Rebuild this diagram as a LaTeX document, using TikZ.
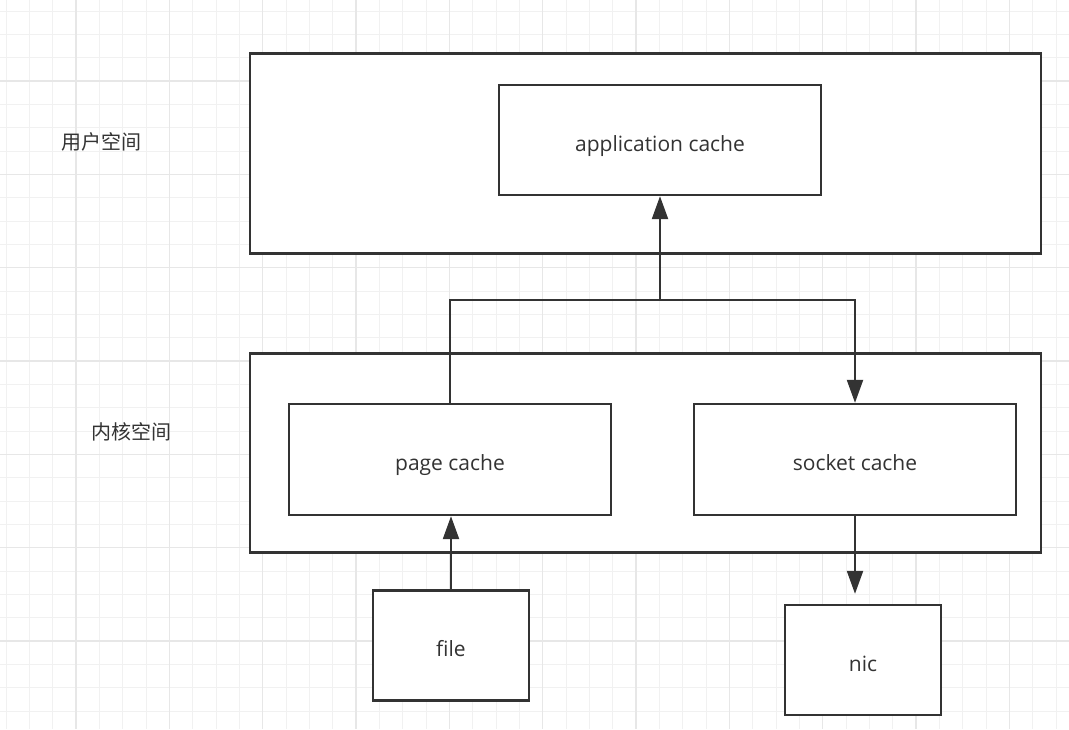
\documentclass[tikz,border=0pt]{standalone}
\usepackage{fontspec}
\setmainfont{Open Sans}
\newfontfamily\cjk{Noto Sans CJK SC}
\usetikzlibrary{arrows.meta}
\definecolor{ink}{HTML}{333333}
\definecolor{gridminor}{HTML}{F1F1F1}
\definecolor{gridmajor}{HTML}{E7E7E7}
\tikzset{
  box/.style={draw=ink, line width=2.4pt, fill=white, inner sep=0pt, text=ink,
    text height=22pt, text depth=0pt, font=\fontsize{21}{24}\selectfont},
  lbl/.style={text=ink, font=\cjk\fontsize{20}{24}\selectfont, inner sep=0pt},
  arr/.style={draw=ink, line width=2.3pt, -{Triangle[length=23pt,width=16pt]}}
}
\begin{document}
\begin{tikzpicture}[x=1pt,y=-1pt]
\useasboundingbox (0,0) rectangle (1069,729);
\fill[white] (0,0) rectangle (1069,729);
% grid
\foreach \k in {-3,...,43} {
  \draw[gridminor, line width=1pt] ({76+23.3333*\k},0) -- ({76+23.3333*\k},729);
}
\foreach \k in {-3,...,28} {
  \draw[gridminor, line width=1pt] (0,{81+23.3333*\k}) -- (1069,{81+23.3333*\k});
}
\foreach \m in {-1,...,11} {
  \draw[gridmajor, line width=1.2pt] ({76+93.3333*\m},0) -- ({76+93.3333*\m},729);
}
\foreach \m in {-1,...,7} {
  \draw[gridmajor, line width=1.2pt] (0,{81+93.3333*\m}) -- (1069,{81+93.3333*\m});
}
% containers
\node[box, minimum width=791pt, minimum height=200pt] (user) at (645.5,153.5) {};
\node[box, minimum width=791pt, minimum height=199pt] (kernel) at (645.5,452.8) {};
% labels
\node[lbl] (ulbl) at (101,142) {用户空间};
\node[lbl] (klbl) at (131,432) {内核空间};
% boxes
\node[box, minimum width=322pt, minimum height=110pt] (app) at (660,140) {application cache};
\node[box, minimum width=322pt, minimum height=111pt] (page) at (450,459.5) {page cache};
\node[box, minimum width=322pt, minimum height=111pt] (socket) at (855,459.5) {socket cache};
\node[box, minimum width=156pt, minimum height=110pt] (file) at (451,645.5) {file};
\node[box, minimum width=156pt, minimum height=110pt] (nic) at (863,660) {nic};
% connectors
\coordinate (j) at (660,300);
\draw[arr] (page.north) -- (page.north |- j) -- (j) -- (app.south);
\draw[arr] (j) -| (socket.north);
\draw[arr] (file.north) -- (file.north |- page.south);
\draw[arr, shorten >=10pt] (socket.south) -- (socket.south |- nic.north);
\end{tikzpicture}
\end{document}
